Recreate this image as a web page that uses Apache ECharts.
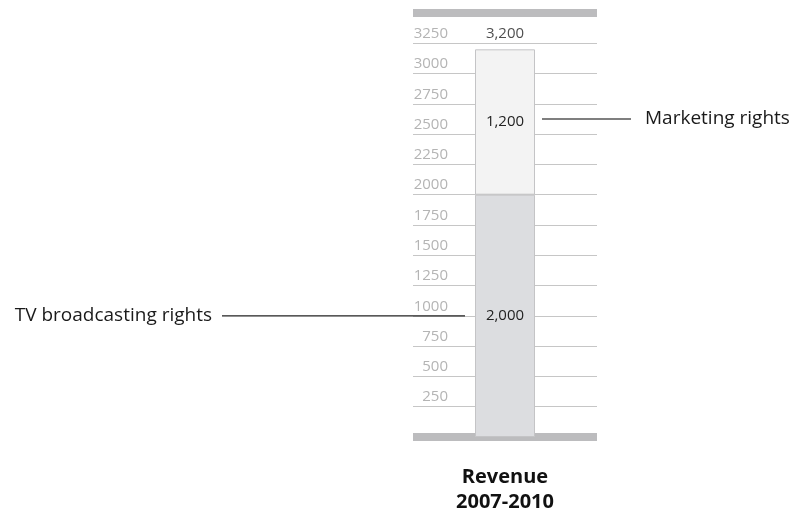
<!DOCTYPE html>
<html>
<head>
<meta charset="utf-8">
<script src="https://cdn.jsdelivr.net/npm/echarts@6/dist/echarts.min.js"></script>
<style>
  html, body { margin: 0; padding: 0; background: #ffffff; }
  #chart { width: 798px; height: 512px; }
</style>
</head>
<body>
<div id="chart"></div>
<script>
// Revenue split for one period, stacked in a single column
const categories = ['Revenue\n2007-2010'];
const tvRights = [2000];
const marketingRights = [1200];
const seriesNames = ['TV broadcasting rights', 'Marketing rights'];
const tickLabels = ['250', '500', '750', '1000', '1250', '1500', '1750', '2000', '2250', '2500', '2750', '3000', '3250'];
const axisMax = 3500;
const tickStep = 250;

const totals = tvRights.map((v, i) => v + marketingRights[i]);
const fmt = v => v.toLocaleString('en-US');

const FONT = '"Open Sans", "Noto Sans", sans-serif';

const chart = echarts.init(document.getElementById('chart'), null, { renderer: 'canvas' });

chart.setOption({
  animation: false,
  backgroundColor: '#ffffff',
  grid: {
    left: 413, right: 201, top: 13, bottom: 75,
    containLabel: false,
    outerBoundsMode: 'none'
  },
  xAxis: [
    {
      type: 'category',
      data: categories,
      position: 'bottom',
      axisLine: { lineStyle: { color: '#bcbcbe', width: 8, cap: 'butt' } },
      axisTick: { show: false },
      axisLabel: {
        margin: 28,
        fontFamily: FONT,
        fontSize: 20,
        fontWeight: 'bold',
        color: '#111111',
        lineHeight: 25
      }
    },
    {
      type: 'category',
      data: categories,
      position: 'top',
      axisLine: { lineStyle: { color: '#bcbcbe', width: 8, cap: 'butt' } },
      axisTick: { show: false },
      axisLabel: { show: false }
    }
  ],
  yAxis: {
    type: 'value',
    min: 0,
    max: axisMax,
    interval: tickStep,
    axisLine: { show: false },
    axisTick: { show: false },
    splitLine: { lineStyle: { color: '#c6c6c6', width: 1 } },
    axisLabel: {
      margin: -35,
      align: 'right',
      verticalAlign: 'bottom',
      padding: [0, 0, 2, 0],
      fontFamily: FONT,
      fontSize: 15,
      color: '#b4b4b4',
      formatter: v => (tickLabels.indexOf(String(v)) >= 0 ? String(v) : '')
    }
  },
  series: [
    {
      name: seriesNames[0],
      type: 'bar',
      stack: 'rev',
      barWidth: 60,
      data: tvRights,
      itemStyle: { color: '#dcdde0', borderColor: '#c4c4c6', borderWidth: 1 },
      label: {
        show: true,
        position: 'inside',
        fontFamily: FONT,
        fontSize: 15,
        color: '#222222',
        formatter: p => fmt(p.value)
      },
      z: 3
    },
    {
      name: seriesNames[1],
      type: 'bar',
      stack: 'rev',
      barWidth: 60,
      data: marketingRights,
      itemStyle: { color: '#f3f3f3', borderColor: '#c4c4c6', borderWidth: 1 },
      label: {
        show: true,
        position: 'inside',
        fontFamily: FONT,
        fontSize: 15,
        color: '#222222',
        formatter: p => fmt(p.value)
      },
      z: 3
    },
    {
      name: 'Total',
      type: 'scatter',
      data: totals,
      symbolSize: 0,
      label: {
        show: true,
        position: 'top',
        distance: 8,
        fontFamily: FONT,
        fontSize: 15,
        color: '#222222',
        formatter: p => fmt(p.value)
      },
      z: 4
    }
  ]
});

// Leader lines and names for both segments, placed at each segment's middle
const barLeft = chart.convertToPixel({ xAxisIndex: 0 }, 0) - 30;
const barRight = barLeft + 60;
const tvY = chart.convertToPixel({ yAxisIndex: 0 }, tvRights[0] / 2);
const mkY = chart.convertToPixel({ yAxisIndex: 0 }, tvRights[0] + marketingRights[0] / 2) - 3;

chart.setOption({
  graphic: [
    {
      type: 'line',
      shape: { x1: 222, y1: tvY, x2: barLeft - 10, y2: tvY },
      style: { stroke: '#222222', lineWidth: 1.2 },
      z: 10
    },
    {
      type: 'text',
      x: 212, y: tvY,
      style: {
        text: seriesNames[0],
        fontFamily: FONT, fontSize: 19, fill: '#1a1a1a',
        textAlign: 'right', textVerticalAlign: 'middle'
      },
      z: 10
    },
    {
      type: 'line',
      shape: { x1: barRight + 7, y1: mkY, x2: 631, y2: mkY },
      style: { stroke: '#555555', lineWidth: 1.5 },
      z: 10
    },
    {
      type: 'text',
      x: 645, y: mkY,
      style: {
        text: seriesNames[1],
        fontFamily: FONT, fontSize: 19, fill: '#1a1a1a',
        textAlign: 'left', textVerticalAlign: 'middle'
      },
      z: 10
    }
  ]
});
</script>
</body>
</html>
